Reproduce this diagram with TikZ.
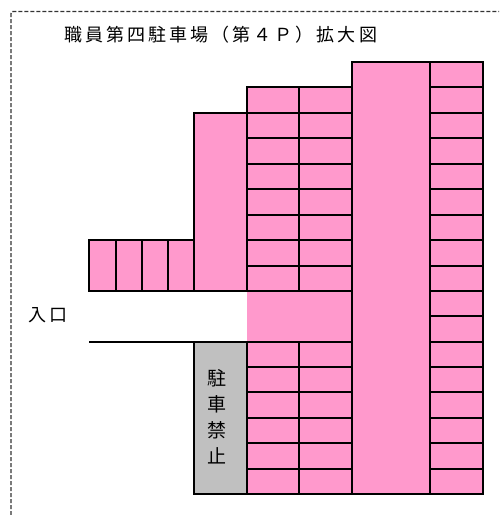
\documentclass[tikz,border=0pt]{standalone}
\usepackage{fontspec}
\usepackage{xcolor}
\newfontfamily\cjk{Noto Sans CJK JP}
\newfontfamily\cjktitle[LetterSpace=17]{Noto Sans CJK JP}
\definecolor{stallpink}{HTML}{FF99CC}
\definecolor{nogray}{HTML}{C0C0C0}
\tikzset{
  stall/.style={draw=black, fill=stallpink, line width=1.7pt},
  rule/.style={draw=black, line width=1.7pt},
  noparking/.style={draw=black, fill=nogray, line width=1.7pt},
  sitebound/.style={draw=black!80, line width=1.4pt, dash pattern=on 4pt off 2pt, rounded corners=2pt},
  label/.style={inner sep=0pt, text=black}
}
\begin{document}
\begin{tikzpicture}[x=1pt, y=-1pt]
    \useasboundingbox (0,0) rectangle (499,515);
    \fill[white] (0,0) rectangle (499,515);
    % site boundary
    \draw[sitebound] (11,515) -- (11,11.5) -- (499,11.5);
    % open floor
    \fill[stallpink] (247,291) rectangle (352,342);
    % left row
    \draw[stall] (89,240) rectangle (194,291);
    \foreach \x in {116,142,168} {
        \draw[rule] (\x,240) -- (\x,291);
    }
    \draw[stall] (194,113) rectangle (247,291);
    % upper block
    \draw[stall] (247,87) rectangle (352,291);
    \draw[rule] (299,87) -- (299,291);
    \foreach \y in {113,138,164,189,215,240,266} {
        \draw[rule] (247,\y) -- (352,\y);
    }
    % lower block
    \draw[noparking] (194,342) rectangle (247,494);
    \draw[stall] (247,342) rectangle (352,494);
    \draw[rule] (299,342) -- (299,494);
    \foreach \y in {367,392,418,443,469} {
        \draw[rule] (247,\y) -- (352,\y);
    }
    % aisle and right column
    \draw[stall] (352,62) rectangle (430,494);
    \draw[stall] (430,62) rectangle (483,494);
    \foreach \y in {87,113,138,164,189,215,240,266,291,316,342,367,392,418,443,469} {
        \draw[rule] (430,\y) -- (483,\y);
    }
    % entrance
    \draw[rule] (89,342) -- (194,342);
    \node[label, anchor=west] (entrance) at (28,315) {\fontsize{18}{18}\cjktitle 入口};
    \node[label, anchor=west] (title) at (64,35) {\fontsize{18}{18}\cjktitle 職員第四駐車場（第４Ｐ）拡大図};
    \node[label, align=center, font=\fontsize{19}{26}\cjk] (nopark) at (217,417) {駐\\車\\禁\\止};
\end{tikzpicture}
\end{document}
